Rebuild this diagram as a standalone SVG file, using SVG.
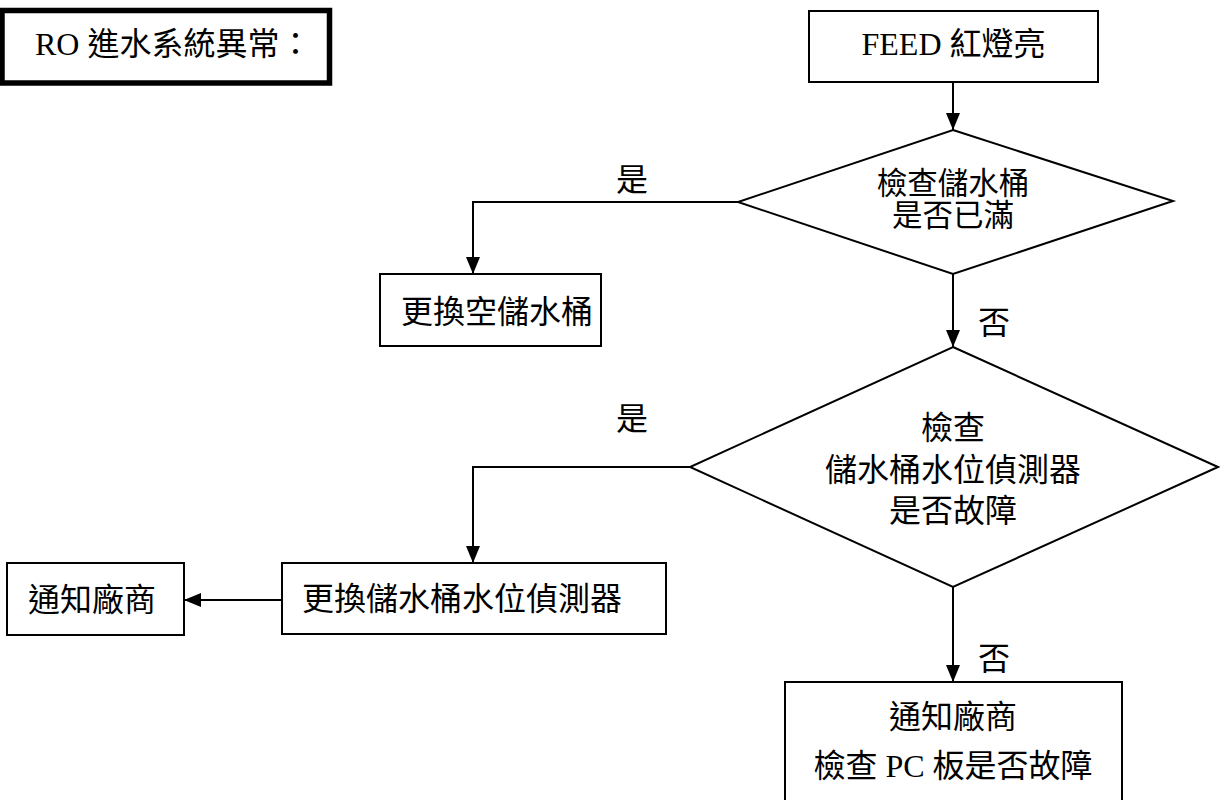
<svg xmlns="http://www.w3.org/2000/svg" width="1220" height="800" viewBox="0 0 1220 800">
<style>
.box{fill:#fff;stroke:#000;stroke-width:2}
.t{font-family:"Liberation Serif","Noto Sans CJK TC",serif;font-size:32px;fill:#000}
.s{font-size:30.5px}
.m{text-anchor:middle}
.c{fill:none;stroke:#000;stroke-width:2}
</style>
<defs>
<marker id="ah" markerWidth="17" markerHeight="14" viewBox="0 0 17 14" refX="17" refY="7" orient="auto" markerUnits="userSpaceOnUse">
<path d="M0,0 L17,7 L0,14 Z" fill="#000"/>
</marker>
</defs>
<rect width="1220" height="800" fill="#fff"/>
<g id="title">
<rect x="2" y="10.5" width="327.5" height="72.5" fill="#fff" stroke="#000" stroke-width="5.5"/>
<text class="t" x="35" y="55">RO 進水系統異常：</text>
</g>
<g id="connectors">
<path class="c" d="M953,82 V130" marker-end="url(#ah)"/>
<path class="c" d="M738,202 H473 V274" marker-end="url(#ah)"/>
<path class="c" d="M953,274 V347" marker-end="url(#ah)"/>
<path class="c" d="M690,467 H473 V563" marker-end="url(#ah)"/>
<path class="c" d="M282,600 H184" marker-end="url(#ah)"/>
<path class="c" d="M953,587 V682" marker-end="url(#ah)"/>
<text class="t m" x="632" y="191">是</text>
<text class="t m" x="994" y="334">否</text>
<text class="t m" x="632" y="430">是</text>
<text class="t m" x="994" y="670">否</text>
</g>
<g id="feed">
<rect class="box" x="809" y="11" width="289" height="71"/>
<text class="t m" x="953.5" y="55">FEED 紅燈亮</text>
</g>
<g id="d1">
<polygon class="box" points="953,130 1173,201 953,274 738,202"/>
<text class="t s m" x="953" y="194">檢查儲水桶</text>
<text class="t s m" x="953" y="226">是否已滿</text>
</g>
<g id="replaceBucket">
<rect class="box" x="380" y="274" width="221" height="72"/>
<text class="t" x="401" y="323">更換空儲水桶</text>
</g>
<g id="d2">
<polygon class="box" points="953,347 1218,467 953,587 690,467"/>
<text class="t m" x="953" y="439">檢查</text>
<text class="t m" x="953" y="481">儲水桶水位偵測器</text>
<text class="t m" x="953" y="522">是否故障</text>
</g>
<g id="replaceSensor">
<rect class="box" x="282" y="563" width="384" height="71"/>
<text class="t" x="302" y="610">更換儲水桶水位偵測器</text>
</g>
<g id="notify1">
<rect class="box" x="7" y="563" width="177" height="72"/>
<text class="t" x="28" y="611">通知廠商</text>
</g>
<g id="notify2">
<rect class="box" x="785" y="682" width="337" height="130"/>
<text class="t m" x="953" y="728">通知廠商</text>
<text class="t m" x="953" y="777">檢查 PC 板是否故障</text>
</g>
</svg>
